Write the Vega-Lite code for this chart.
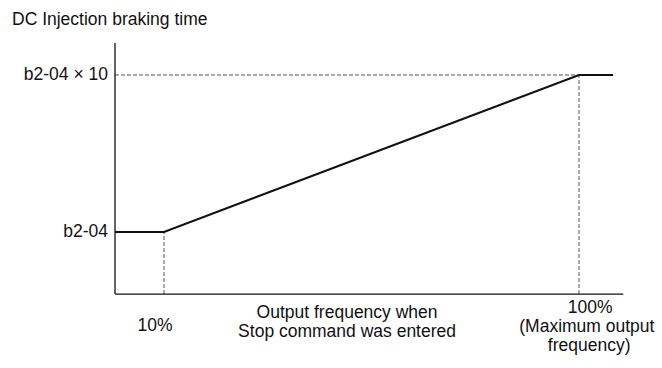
{
  "$schema": "https://vega.github.io/schema/vega-lite/v6.json",
  "width": 662,
  "height": 368,
  "autosize": "none",
  "padding": 0,
  "background": "white",
  "config": {"view": {"stroke": null}, "text": {"font": "Liberation Sans", "fontSize": 17.5, "color": "#111"}},
  "datasets": {
    "curve": [
      {"freq": -0.63, "time": 1},
      {"freq": 10, "time": 1},
      {"freq": 100, "time": 10},
      {"freq": 107.4, "time": 10}
    ],
    "axes": [
      {"x1": -0.63, "y1": -2.56, "x2": -0.63, "y2": 11.84},
      {"x1": -0.63, "y1": -2.56, "x2": 109.6, "y2": -2.56}
    ],
    "guides": [
      {"x1": 10, "y1": -2.56, "x2": 10, "y2": 1},
      {"x1": 100, "y1": -2.56, "x2": 100, "y2": 10},
      {"x1": -0.63, "y1": 10, "x2": 100, "y2": 10}
    ],
    "leftText": [
      {"x": -22.97, "y": 13.16, "label": "DC Injection braking time"}
    ],
    "rightText": [
      {"x": -2.15, "y": 10, "label": "b2-04 × 10"},
      {"x": -2.15, "y": 1, "label": "b2-04"}
    ],
    "centerText": [
      {"x": 8.05, "y": -4.39, "label": "10%"},
      {"x": 102.4, "y": -3.36, "label": "100%"},
      {"x": 101.7, "y": -4.45, "label": "(Maximum output"},
      {"x": 102.2, "y": -5.54, "label": "frequency)"},
      {"x": 49.7, "y": -3.64, "label": "Output frequency when"},
      {"x": 49.7, "y": -4.73, "label": "Stop command was entered"}
    ]
  },
  "layer": [
    {
      "data": {"name": "guides"},
      "mark": {"type": "rule", "color": "#555", "strokeWidth": 1, "strokeDash": [4, 2]},
      "encoding": {
        "x": {"field": "x1", "type": "quantitative", "scale": {"domain": [-25.57, 118.0], "nice": false, "zero": false}, "axis": null},
        "y": {"field": "y1", "type": "quantitative", "scale": {"domain": [-6.8, 14.3], "nice": false, "zero": false}, "axis": null},
        "x2": {"field": "x2"},
        "y2": {"field": "y2"}
      }
    },
    {
      "data": {"name": "axes"},
      "mark": {"type": "rule", "color": "#111", "strokeWidth": 1.3},
      "encoding": {
        "x": {"field": "x1", "type": "quantitative", "scale": {"domain": [-25.57, 118.0], "nice": false, "zero": false}, "axis": null},
        "y": {"field": "y1", "type": "quantitative", "scale": {"domain": [-6.8, 14.3], "nice": false, "zero": false}, "axis": null},
        "x2": {"field": "x2"},
        "y2": {"field": "y2"}
      }
    },
    {
      "data": {"name": "curve"},
      "mark": {"type": "line", "color": "#111", "strokeWidth": 2},
      "encoding": {
        "x": {"field": "freq", "type": "quantitative", "scale": {"domain": [-25.57, 118.0], "nice": false, "zero": false}, "axis": null},
        "y": {"field": "time", "type": "quantitative", "scale": {"domain": [-6.8, 14.3], "nice": false, "zero": false}, "axis": null}
      }
    },
    {
      "data": {"name": "leftText"},
      "mark": {"type": "text", "align": "left", "baseline": "middle"},
      "encoding": {
        "x": {"field": "x", "type": "quantitative", "scale": {"domain": [-25.57, 118.0], "nice": false, "zero": false}, "axis": null},
        "y": {"field": "y", "type": "quantitative", "scale": {"domain": [-6.8, 14.3], "nice": false, "zero": false}, "axis": null},
        "text": {"field": "label"}
      }
    },
    {
      "data": {"name": "rightText"},
      "mark": {"type": "text", "align": "right", "baseline": "middle"},
      "encoding": {
        "x": {"field": "x", "type": "quantitative", "scale": {"domain": [-25.57, 118.0], "nice": false, "zero": false}, "axis": null},
        "y": {"field": "y", "type": "quantitative", "scale": {"domain": [-6.8, 14.3], "nice": false, "zero": false}, "axis": null},
        "text": {"field": "label"}
      }
    },
    {
      "data": {"name": "centerText"},
      "mark": {"type": "text", "align": "center", "baseline": "middle"},
      "encoding": {
        "x": {"field": "x", "type": "quantitative", "scale": {"domain": [-25.57, 118.0], "nice": false, "zero": false}, "axis": null},
        "y": {"field": "y", "type": "quantitative", "scale": {"domain": [-6.8, 14.3], "nice": false, "zero": false}, "axis": null},
        "text": {"field": "label"}
      }
    }
  ]
}
